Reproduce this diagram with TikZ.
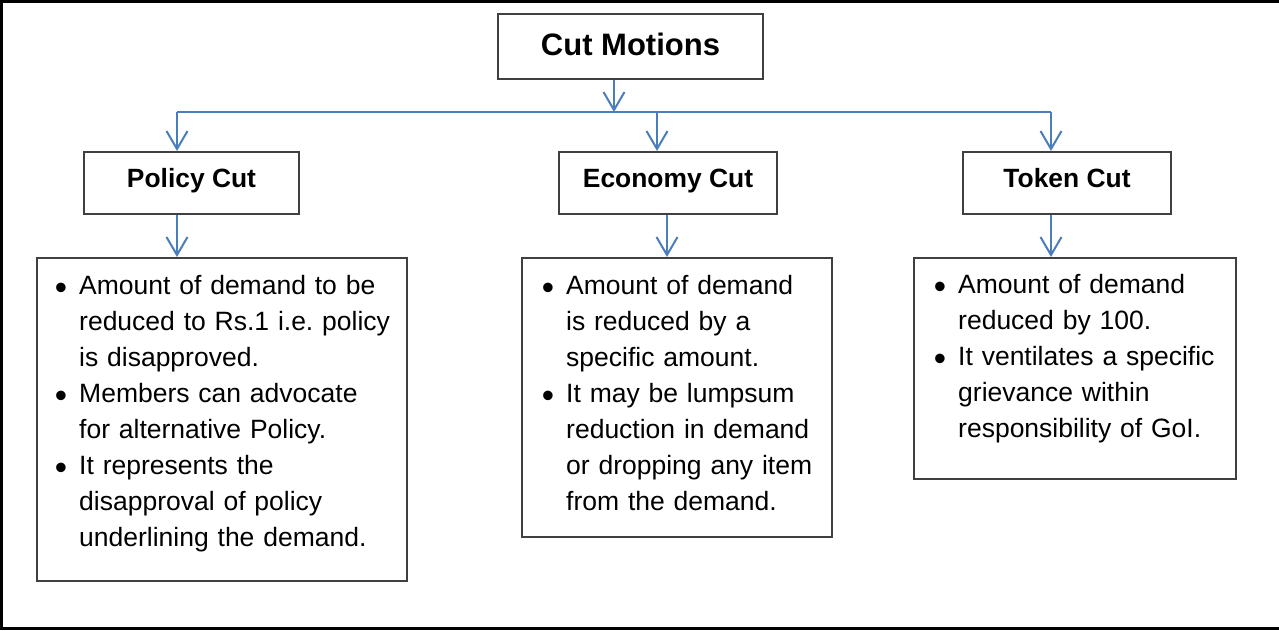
\documentclass[tikz,border=0pt]{standalone}
\usepackage{fontspec}
\setmainfont{Liberation Sans}
\usetikzlibrary{arrows.meta}
\definecolor{linkblue}{RGB}{74,126,187}
\definecolor{boxgray}{RGB}{64,64,64}
% bullet hung to the left of the first line of an item
\newcommand{\bitem}{\leavevmode\llap{\raisebox{-5pt}{\fontsize{35}{35}\selectfont\textbullet}\hspace{12pt}}}
\begin{document}
\frenchspacing
\begin{tikzpicture}[x=1pt,y=-1pt,
  box/.style={draw=boxgray, line width=2pt, inner sep=0pt},
  head/.style={box, font=\bfseries\fontsize{26.4}{30}\selectfont, text height=19pt, text depth=11pt},
  listbox/.style={box, anchor=north west},
  listtext/.style={anchor=base west, inner sep=0pt, text width=#1, align=left,
    font=\fontsize{26.5}{36}\selectfont},
  link/.style={draw=linkblue, line width=2pt},
  arr/.style={link, -{Straight Barb[length=18pt,width=21pt]}},
  frame/.style={line width=3pt}]
\useasboundingbox (0,0) rectangle (1279,630);
% outer frame (open on the right)
\draw[frame] (1279,1.5) -- (1.5,1.5) -- (1.5,628.5) -- (1279,628.5);

% title and the three kinds of cut
\node[box, minimum width=265, minimum height=65,
  font=\bfseries\fontsize{31}{36}\selectfont, text height=23pt, text depth=6pt]
  (cm) at (630.5,46.5) {Cut Motions};
\node[head, minimum width=215, minimum height=62] (pc) at (191.5,183) {Policy Cut};
\node[head, minimum width=218, minimum height=62] (ec) at (668,183) {Economy Cut};
\node[head, minimum width=208, minimum height=62] (tc) at (1067,183) {Token Cut};

% description boxes
\node[listbox, minimum width=370, minimum height=323] (pl) at (36,257) {};
\node[listbox, minimum width=310, minimum height=279] (el) at (521,257) {};
\node[listbox, minimum width=322, minimum height=221] (tl) at (913,257) {};

\node[listtext=320pt] (plt) at (79,294) {\bitem Amount of demand to be\\
reduced to Rs.1 i.e. policy\\
is disapproved.\\
\bitem Members can advocate\\
for alternative Policy.\\
\bitem It represents the\\
disapproval of policy\\
underlining the demand.};
\node[listtext=260pt] (elt) at (566,294) {\bitem Amount of demand\\
is reduced by a\\
specific amount.\\
\bitem It may be lumpsum\\
reduction in demand\\
or dropping any item\\
from the demand.};
\node[listtext=270pt] (tlt) at (958,293) {\bitem Amount of demand\\
reduced by 100.\\
\bitem It ventilates a specific\\
grievance within\\
responsibility of GoI.};

% connectors
\coordinate (jc) at (614,112);
\coordinate (jp) at (177,112);
\coordinate (je) at (657,112);
\coordinate (jt) at (1051,112);
\coordinate (le) at (667,235);
\draw[link] (jp) -- (jt);
\draw[arr] (cm.south -| jc) -- (jc);
\draw[arr] (jp) -- (pc.north -| jp);
\draw[arr] (je) -- (ec.north -| je);
\draw[arr] (jt) -- (tc.north -| jt);
\draw[arr] (pc.south -| jp) -- (pl.north -| jp);
\draw[arr] (ec.south -| le) -- (el.north -| le);
\draw[arr] (tc.south -| jt) -- (tl.north -| jt);
\end{tikzpicture}
\end{document}
